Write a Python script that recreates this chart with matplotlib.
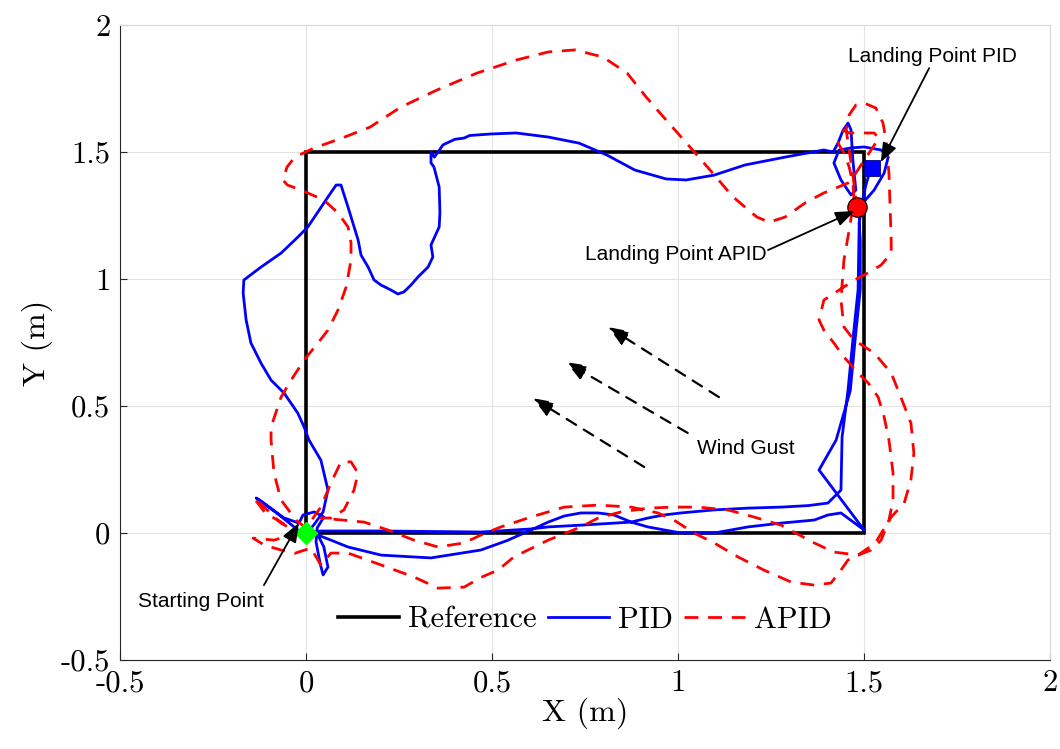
import numpy as np
import matplotlib
matplotlib.use('Agg')
import matplotlib.pyplot as plt

# reference square path
ref_x = [0, 1.5, 1.5, 0, 0]
ref_y = [0, 0, 1.5, 1.5, 0]

# PID trajectory
pid_x = [0.0, -0.02, -0.08, -0.134, -0.12, -0.06, -0.019, -0.008, 0.022, 0.048, 0.03, 0.027, 0.038, 0.046, 0.059, 0.048, 0.032,
         0.067, 0.113, 0.202, 0.336, 0.47, 0.54, 0.605,
         0.651, 0.694, 0.739, 0.785, 0.828, 0.874, 0.919, 0.962, 1.008, 1.097, 1.188, 1.277, 1.35, 1.403, 1.438, 1.441,
         1.457, 1.47, 1.484, 1.487, 1.492, 1.527, 1.554, 1.565, 1.546, 1.5, 1.465, 1.433, 1.419, 1.438, 1.465, 1.478, 1.47,
         1.465, 1.457, 1.444, 1.43, 1.417, 1.392,
         1.288, 1.18, 1.097, 1.022, 0.968, 0.884, 0.809, 0.734, 0.651, 0.565, 0.497, 0.44, 0.425, 0.4, 0.368, 0.355, 0.345,
         0.336, 0.336, 0.344, 0.358, 0.36, 0.358, 0.336, 0.341, 0.328, 0.301, 0.282, 0.263, 0.247, 0.228, 0.202, 0.183,
         0.167, 0.148, 0.14, 0.121, 0.113, 0.094, 0.081, 0.059, 0.032, 0.005, -0.022, -0.067, -0.121, -0.167, -0.169,
         -0.161, -0.148, -0.121, -0.094, -0.059, -0.022, -0.005, 0.008, 0.04, 0.059, 0.046, 0.02, 0.0,
         0.04, 0.2, 0.35, 0.47, 0.605, 0.651, 0.739, 0.828, 0.874, 0.919, 1.008, 1.097, 1.188, 1.277, 1.366, 1.403, 1.438, 1.5,
         1.379, 1.425, 1.463, 1.476, 1.49, 1.49, 1.487, 1.495, 1.505, 1.515, 1.521]
pid_y = [0.0, 0.01, 0.08, 0.138, 0.125, 0.06, 0.039, 0.071, 0.083, 0.063, 0.02, -0.035, -0.12, -0.165, -0.134, -0.055, -0.008,
         -0.028, -0.055, -0.087, -0.098, -0.067, -0.03, 0.012,
         0.043, 0.067, 0.079, 0.079, 0.071, 0.043, 0.059, 0.071, 0.079, 0.091, 0.098, 0.102, 0.108, 0.118, 0.169, 0.378,
         0.563, 0.76, 0.957, 1.22, 1.291, 1.35, 1.417, 1.48, 1.508, 1.52, 1.516, 1.508, 1.457, 1.39, 1.331, 1.35, 1.469,
         1.587, 1.614, 1.587, 1.535, 1.5, 1.508,
         1.48, 1.449, 1.409, 1.39, 1.394, 1.429, 1.488, 1.535, 1.559, 1.575, 1.571, 1.565, 1.555, 1.55, 1.528, 1.5, 1.48,
         1.5, 1.457, 1.441, 1.362, 1.26, 1.205, 1.134, 1.087, 1.047, 1.008, 0.976, 0.949, 0.941, 0.957, 0.976, 0.996,
         1.047, 1.094, 1.154, 1.244, 1.283, 1.37, 1.37, 1.323, 1.264, 1.205, 1.165, 1.102, 1.047, 0.996, 0.945,
         0.839, 0.748, 0.669, 0.602, 0.551, 0.472, 0.417, 0.366, 0.287, 0.169, 0.083, 0.03, 0.0,
         0.008, 0.008, 0.006, 0.004, 0.016, 0.024, 0.031, 0.039, 0.043, 0.024, 0.0, 0.0, 0.024, 0.039, 0.051, 0.071, 0.079, 0.012,
         0.248, 0.366, 0.56, 0.76, 0.96, 1.15, 1.22, 1.3, 1.37, 1.42, 1.437]

# APID trajectory
apid_x = [0.0, -0.03, -0.11, -0.14, -0.125, -0.067, -0.02, -0.086, -0.142, -0.113, -0.067, -0.03, 0.013, 0.04, 0.067,
          0.113, 0.202, 0.29, 0.355, 0.425, 0.47, 0.516, 0.559, 0.651, 0.739, 0.785, 0.847, 0.919, 0.989, 1.054, 1.134,
          1.204, 1.277, 1.366, 1.419, 1.484,
          1.53, 1.573, 1.608, 1.626, 1.634, 1.626, 1.599, 1.573, 1.527, 1.473, 1.446, 1.438, 1.446, 1.46, 1.473, 1.47,
          1.46, 1.446, 1.43, 1.446, 1.46, 1.484, 1.527, 1.54, 1.519, 1.492, 1.478,
          1.457, 1.392, 1.341, 1.288, 1.245, 1.212, 1.148, 1.086, 1.032, 0.968, 0.914, 0.863, 0.798, 0.723, 0.651, 0.565,
          0.46, 0.352, 0.255, 0.172, 0.097, 0.022, -0.03, -0.051, -0.062, -0.05, -0.013, 0.048, 0.086, 0.113, 0.121, 0.121,
          0.108, 0.086, 0.059, 0.032, -0.005, -0.04, -0.067, -0.094, -0.094, -0.086, -0.067, -0.027, 0.0,
          0.04, 0.067, 0.094, 0.121, 0.14, 0.129, 0.102, 0.067,
          0.04, 0.156, 0.22, 0.29, 0.355, 0.425, 0.47, 0.524, 0.605, 0.694, 0.785, 0.874, 0.946, 0.989, 1.043, 1.097, 1.161,
          1.231, 1.304, 1.366, 1.411, 1.438, 1.457, 1.484,
          1.519, 1.546, 1.567, 1.578, 1.578, 1.567, 1.554, 1.538, 1.511, 1.484, 1.446, 1.419, 1.392, 1.379, 1.392, 1.446,
          1.484, 1.511, 1.546, 1.573, 1.573, 1.57, 1.567, 1.559, 1.551, 1.532, 1.5, 1.478, 1.46, 1.452, 1.46, 1.47, 1.481]
apid_y = [0.0, 0.01, 0.08, 0.138, 0.12, 0.039, 0.0, -0.028, -0.02, -0.047, -0.067, -0.08, -0.059, -0.126, -0.079,
          -0.079, -0.126, -0.173, -0.217, -0.213, -0.175, -0.146, -0.094, -0.028, 0.024, 0.059, 0.083, 0.098, 0.102, 0.102, 0.091,
          0.063, 0.031, -0.039, -0.075, -0.087,
          -0.04, 0.063, 0.118, 0.209, 0.315, 0.433, 0.535, 0.63, 0.709, 0.76, 0.811, 0.917, 1.075, 1.193, 1.311, 1.378,
          1.441, 1.496, 1.535, 1.587, 1.575, 1.575, 1.575, 1.555, 1.508, 1.449, 1.417,
          1.378, 1.339, 1.299, 1.244, 1.224, 1.244, 1.323, 1.429, 1.52, 1.626, 1.717, 1.811, 1.874, 1.902, 1.894, 1.862,
          1.811, 1.744, 1.677, 1.598, 1.555, 1.516, 1.48, 1.441, 1.39, 1.37, 1.35, 1.311, 1.26, 1.205, 1.142, 1.075,
          0.969, 0.878, 0.799, 0.748, 0.681, 0.602, 0.535, 0.417, 0.366, 0.236, 0.13, 0.051, 0.02,
          0.102, 0.197, 0.28, 0.28, 0.236, 0.169, 0.091, 0.059,
          0.059, 0.043, 0.012, -0.028, -0.055, -0.039, -0.008, 0.024, 0.063, 0.102, 0.11, 0.102, 0.079, 0.051, 0.0, -0.039, -0.094,
          -0.146, -0.193, -0.205, -0.197, -0.146, -0.106, -0.087,
          -0.067, -0.028, 0.051, 0.13, 0.236, 0.366, 0.457, 0.535, 0.591, 0.63, 0.693, 0.748, 0.799, 0.839, 0.917, 0.969,
          1.004, 1.024, 1.055, 1.102, 1.154, 1.283, 1.417, 1.547, 1.614, 1.673, 1.693, 1.685, 1.646, 1.587, 1.508, 1.409, 1.283]

start_pt = (0.0, 0.0)
land_pid = (1.521, 1.437)
land_apid = (1.481, 1.283)

# annotations: label, text position, arrow tail, arrow head
notes = [
    ('Starting Point', (-0.282, -0.268), (-0.113, -0.205), (-0.019, 0.04)),
    ('Landing Point PID', (1.685, 1.878), (1.675, 1.83), (1.545, 1.46)),
    ('Landing Point APID', (0.995, 1.098), (1.242, 1.114), (1.475, 1.268)),
]
wind_tail = [(1.110, 0.535), (1.026, 0.394), (0.909, 0.260)]
wind_head = [(0.812, 0.811), (0.699, 0.673), (0.610, 0.531)]
wind_label = ('Wind Gust', (1.183, 0.331))

xticks = [-0.5, 0, 0.5, 1, 1.5, 2]
xtick_labels = ['-0.5', '0', '0.5', '1', '1.5', '2']
yticks = [-0.5, 0, 0.5, 1, 1.5, 2]
ytick_labels = ['-0.5', '0', '0.5', '1', '1.5', '2']

serif = 'cmr10'
sans = 'Liberation Sans'

fig = plt.figure(figsize=(10.6, 7.49), dpi=100)
ax = fig.add_axes([0.1132, 0.1188, 0.8774, 0.8478])

ax.plot(ref_x, ref_y, color='black', lw=2.6, label='Reference', solid_joinstyle='miter')
ax.plot(pid_x, pid_y, color='#0000ff', lw=2.0, label='PID', solid_joinstyle='round')
ax.plot(apid_x, apid_y, color='#ff0000', lw=2.0, ls=(0, (5, 3.5)), label='APID', dash_joinstyle='round')

ax.plot(*start_pt, marker='D', ms=11, color='#00ff00', mec='#00ff00', zorder=5)
ax.plot(*land_apid, marker='o', ms=14, color='#ff0000', mec='black', mew=0.8, zorder=5)
ax.plot(*land_pid, marker='s', ms=11, color='#0000ff', mec='#000080', mew=0.6, zorder=5)

head = '-|>,head_length=0.65,head_width=0.25'
for label, txt_pos, tail, tip in notes:
    ax.annotate('', xy=tip, xytext=tail,
                arrowprops=dict(arrowstyle=head, color='black', lw=1.3, mutation_scale=18,
                                shrinkA=0, shrinkB=0), zorder=6)
    ax.text(txt_pos[0], txt_pos[1], label, fontsize=15, family=sans, ha='center', va='center')

for tail, tip in zip(wind_tail, wind_head):
    ax.annotate('', xy=tip, xytext=tail,
                arrowprops=dict(arrowstyle=head, color='black', lw=1.6, ls=(0, (5, 4)),
                                mutation_scale=19, shrinkA=0, shrinkB=0))
ax.text(wind_label[1][0], wind_label[1][1], wind_label[0], fontsize=15, family=sans, ha='center', va='center')

ax.set_xlim(-0.5, 2)
ax.set_ylim(-0.5, 2)
ax.set_xticks(xticks)
ax.set_xticklabels(xtick_labels, family=serif, fontsize=22)
ax.set_yticks(yticks)
ax.set_yticklabels(ytick_labels, family=serif, fontsize=22)
ax.tick_params(direction='in', length=5, width=0.8, color='#262626', pad=7)
ax.grid(True, color='#e3e3e3', lw=0.8)
ax.set_axisbelow(True)
for side in ['left', 'bottom']:
    ax.spines[side].set_color('#262626')
    ax.spines[side].set_linewidth(0.8)
for side in ['top', 'right']:
    ax.spines[side].set_color('#d9d9d9')
    ax.spines[side].set_linewidth(0.8)

ax.set_xlabel('X (m)', family=serif, fontsize=23, labelpad=0)
ax.set_ylabel('Y (m)', family=serif, fontsize=23, labelpad=6)

ax.legend(loc='center', bbox_to_anchor=(0.5, 0.063), ncol=3, frameon=False,
          prop={'family': serif, 'size': 22}, handlelength=2.0, handletextpad=0.3,
          columnspacing=0.35)

fig.savefig('out.png', dpi=100)
